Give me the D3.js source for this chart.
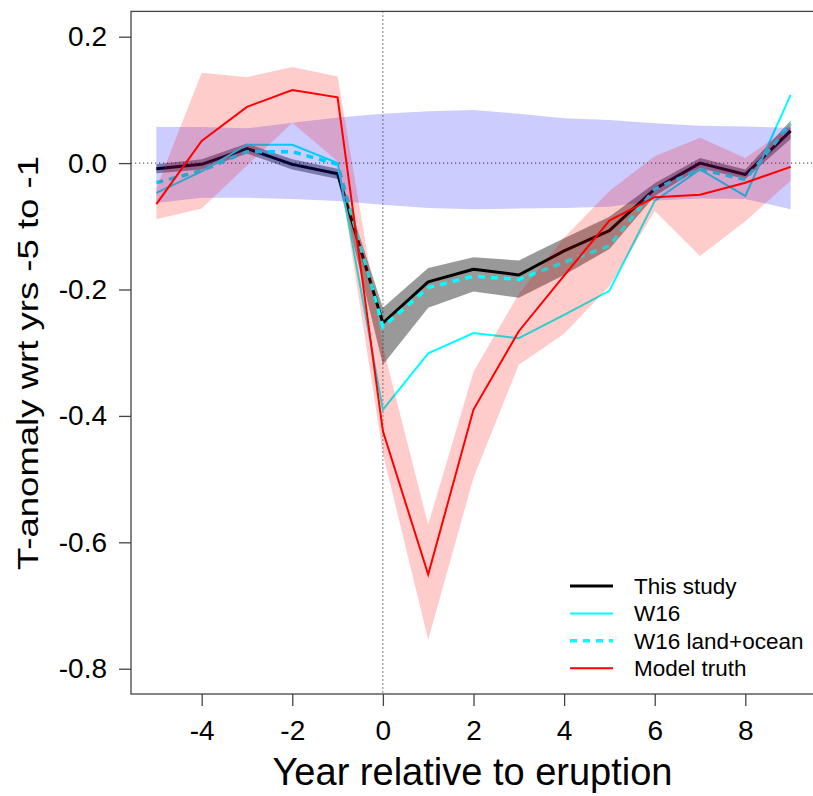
<!DOCTYPE html>
<html>
<head>
<meta charset="utf-8">
<script src="https://cdn.jsdelivr.net/npm/d3@7"></script>
<style>
  html, body { margin: 0; padding: 0; background: #fff; }
  svg { display: block; }
  text { font-family: "Liberation Sans", Arial, sans-serif; fill: #000; }
</style>
</head>
<body>
<svg id="chart" width="813" height="796"></svg>
<script>
// Years relative to the eruption
const years = [-5, -4, -3, -2, -1, 0, 1, 2, 3, 4, 5, 6, 7, 8, 9];

// Reconstruction from this study, with its uncertainty range
const thisStudy   = [-0.009, -0.002, 0.023, -0.002, -0.017, -0.253, -0.188, -0.168, -0.177, -0.139, -0.107, -0.041, 0.000, -0.018, 0.051];
const thisStudyHi = [-0.002, 0.006, 0.031, 0.006, -0.009, -0.229, -0.166, -0.149, -0.154, -0.119, -0.085, -0.032, 0.008, -0.010, 0.067];
const thisStudyLo = [-0.016, -0.010, 0.015, -0.010, -0.025, -0.319, -0.229, -0.203, -0.213, -0.177, -0.136, -0.052, -0.008, -0.025, 0.038];

// W16 reconstructions
const w16          = [-0.047, -0.013, 0.029, 0.029, 0.000, -0.390, -0.301, -0.269, -0.277, -0.240, -0.202, -0.060, -0.010, -0.052, 0.108];
const w16LandOcean = [-0.031, -0.012, 0.018, 0.018, -0.002, -0.259, -0.197, -0.179, -0.184, -0.157, -0.131, -0.041, -0.010, -0.026, 0.062];

// Model truth and its spread
const modelTruth   = [-0.065, 0.035, 0.089, 0.1155, 0.104, -0.424, -0.651, -0.390, -0.266, -0.178, -0.091, -0.054, -0.050, -0.031, -0.006];
const modelTruthHi = [-0.040, 0.143, 0.136, 0.152, 0.137, -0.290, -0.572, -0.330, -0.207, -0.118, -0.044, 0.011, 0.040, 0.008, 0.058];
const modelTruthLo = [-0.089, -0.072, -0.004, 0.064, 0.003, -0.460, -0.754, -0.498, -0.319, -0.270, -0.195, -0.076, -0.147, -0.092, -0.028];

// Range without eruption (control)
const controlHi = [0.057, 0.057, 0.055, 0.064, 0.072, 0.078, 0.082, 0.084, 0.078, 0.071, 0.068, 0.063, 0.059, 0.058, 0.056];
const controlLo = [-0.063, -0.055, -0.055, -0.057, -0.060, -0.066, -0.071, -0.073, -0.072, -0.071, -0.069, -0.059, -0.056, -0.057, -0.073];

// Axis ticks and labels
const xTicks = [-4, -2, 0, 2, 4, 6, 8];
const yTicks = [0.2, 0.0, -0.2, -0.4, -0.6, -0.8];
const xTitle = "Year relative to eruption";
const yTitle = "T-anomaly wrt yrs -5 to -1";

const legendItems = [
  { label: "This study",       color: "#000000", width: 3,   dash: null },
  { label: "W16",              color: "#00FFFF", width: 2,   dash: null },
  { label: "W16 land+ocean",   color: "#00FFFF", width: 3.5, dash: "7,6" },
  { label: "Model truth",      color: "#FF0000", width: 2,   dash: null }
];

const svg = d3.select("#chart");

// Plot region (axis ranges padded 4% on each side)
const x = d3.scaleLinear().domain([-5.56, 9.56]).range([131, 816]);
const y = d3.scaleLinear().domain([-0.84, 0.24]).range([694, 11.4]);

const plot = svg.append("g");

// Reference lines at zero
plot.append("line")
  .attr("x1", x(0)).attr("x2", x(0))
  .attr("y1", y(0.24)).attr("y2", y(-0.84))
  .attr("stroke", "#333").attr("stroke-width", 1).attr("stroke-dasharray", "1.2,2.8");
plot.append("line")
  .attr("x1", x(-5.56)).attr("x2", x(9.56))
  .attr("y1", y(0)).attr("y2", y(0))
  .attr("stroke", "#333").attr("stroke-width", 1).attr("stroke-dasharray", "1.2,2.8");

const area = (hi, lo) => d3.area()
  .x((d, i) => x(years[i]))
  .y0((d, i) => y(lo[i]))
  .y1((d, i) => y(hi[i]))(years);

const line = vals => d3.line()
  .x((d, i) => x(years[i]))
  .y((d, i) => y(vals[i]))(years);

// This study: band and line
plot.append("path").attr("d", area(thisStudyHi, thisStudyLo))
  .attr("fill", "rgba(0,0,0,0.4)");
plot.append("path").attr("d", line(thisStudy))
  .attr("fill", "none").attr("stroke", "#000").attr("stroke-width", 3)
  .attr("stroke-linejoin", "round");

// W16 lines
plot.append("path").attr("d", line(w16))
  .attr("fill", "none").attr("stroke", "#00FFFF").attr("stroke-width", 2);
plot.append("path").attr("d", line(w16LandOcean))
  .attr("fill", "none").attr("stroke", "#00FFFF").attr("stroke-width", 3.5)
  .attr("stroke-dasharray", "7,6");

// Control range and model truth band
plot.append("path").attr("d", area(controlHi, controlLo))
  .attr("fill", "rgba(0,0,255,0.2)");
plot.append("path").attr("d", area(modelTruthHi, modelTruthLo))
  .attr("fill", "rgba(255,0,0,0.2)");
plot.append("path").attr("d", line(modelTruth))
  .attr("fill", "none").attr("stroke", "#FF0000").attr("stroke-width", 2);

// Frame
svg.append("rect")
  .attr("x", x(-5.56)).attr("y", y(0.24))
  .attr("width", x(9.56) - x(-5.56)).attr("height", y(-0.84) - y(0.24))
  .attr("fill", "none").attr("stroke", "#444").attr("stroke-width", 1.3);

// Axes
const yAxis = d3.axisLeft(y).tickValues(yTicks).tickFormat(d3.format(".1f"))
  .tickSize(12).tickPadding(12);
const gy = svg.append("g").attr("transform", `translate(${x(-5.56)},0)`).call(yAxis);
gy.select(".domain").remove();
gy.selectAll(".tick line").attr("stroke", "#444").attr("stroke-width", 1.3);
gy.selectAll(".tick text").style("font-size", "28px")
  .style("font-family", "'Liberation Sans', Arial, sans-serif")
  .text(d => d3.format(".1f")(d).replace("−", "-"));

const xAxis = d3.axisBottom(x).tickValues(xTicks).tickFormat(d => String(d))
  .tickSize(12).tickPadding(14);
const gx = svg.append("g").attr("transform", `translate(0,${y(-0.84)})`).call(xAxis);
gx.select(".domain").remove();
gx.selectAll(".tick line").attr("stroke", "#444").attr("stroke-width", 1.3);
gx.selectAll(".tick text").style("font-size", "28px")
  .style("font-family", "'Liberation Sans', Arial, sans-serif");

// Axis titles
svg.append("text")
  .attr("x", (x(-5.56) + x(9.56)) / 2 - 1).attr("y", 785)
  .attr("text-anchor", "middle")
  .style("font-size", "38px")
  .text(xTitle);

svg.append("text")
  .attr("transform", "translate(38,363) rotate(-90)")
  .attr("text-anchor", "middle")
  .attr("textLength", 414).attr("lengthAdjust", "spacingAndGlyphs")
  .style("font-size", "30px")
  .text(yTitle);

// Legend
const lg = svg.append("g");
legendItems.forEach((item, i) => {
  const ly = 586 + i * 27.4;
  lg.append("line")
    .attr("x1", 570).attr("x2", 613).attr("y1", ly).attr("y2", ly)
    .attr("stroke", item.color).attr("stroke-width", item.width)
    .attr("stroke-dasharray", item.dash);
  lg.append("text")
    .attr("x", 634).attr("y", ly).attr("dy", "0.35em")
    .style("font-size", "22.5px")
    .text(item.label);
});
</script>
</body>
</html>
